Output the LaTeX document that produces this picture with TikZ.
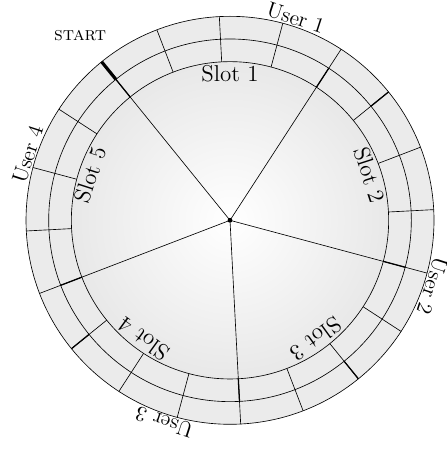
\documentclass[tikz,border=0pt]{standalone}
\usepackage{tikz}
\usetikzlibrary{positioning,calc}
\tikzset{
  ring/.style={fill=black!8},
  disk/.style={inner color=white,outer color=black!9},
  slotmark/.style={thick},
  usermark/.style={thick},
  startmark/.style={line width=2pt},
  slotlbl/.style={font=\Large,inner sep=2pt,anchor=north},
  userlbl/.style={font=\fontsize{13.5}{16}\selectfont,inner sep=0.5pt,anchor=south},
}

\begin{document}
\begin{tikzpicture}
  \useasboundingbox (-5.074,-5.045) rectangle (4.765,4.86);
  % rings and disk
  \fill[ring] (0,0) circle (4.5);
  \shade[disk] (0,0) circle (3.5);
  \draw (0,0) circle (4.5) (0,0) circle (4) (0,0) circle (3.5);
  % segments, 18 degrees each
  \foreach \k in {0,...,19}
    \draw (129-18*\k:3.5) -- (129-18*\k:4.5);
  % slot boundaries
  \foreach \k in {0,...,4} {
    \draw (0,0) -- (129-72*\k:3.5);
    \draw[slotmark] (129-72*\k:3.5) -- (129-72*\k:4);
  }
  % user boundaries
  \foreach \k in {1,2,3}
    \draw[usermark] (129-90*\k:4) -- (129-90*\k:4.5);
  \draw[startmark] (129:4) -- (129:4.5);
  \fill (0,0) circle (1.5pt);
  % labels
  \foreach \a [count=\i] in {90,18,-54,-126,162}
    \node[slotlbl,rotate=\a-90] (slot\i) at (\a:3.5) {Slot \i};
  \foreach \a [count=\i] in {72,-18,-108,162}
    \node[userlbl,rotate=\a-90] (user\i) at (\a:4.5) {User \i};
  \node[font=\large] (start) at (129:5.25) {\textsc{start}};
\end{tikzpicture}
\end{document}
